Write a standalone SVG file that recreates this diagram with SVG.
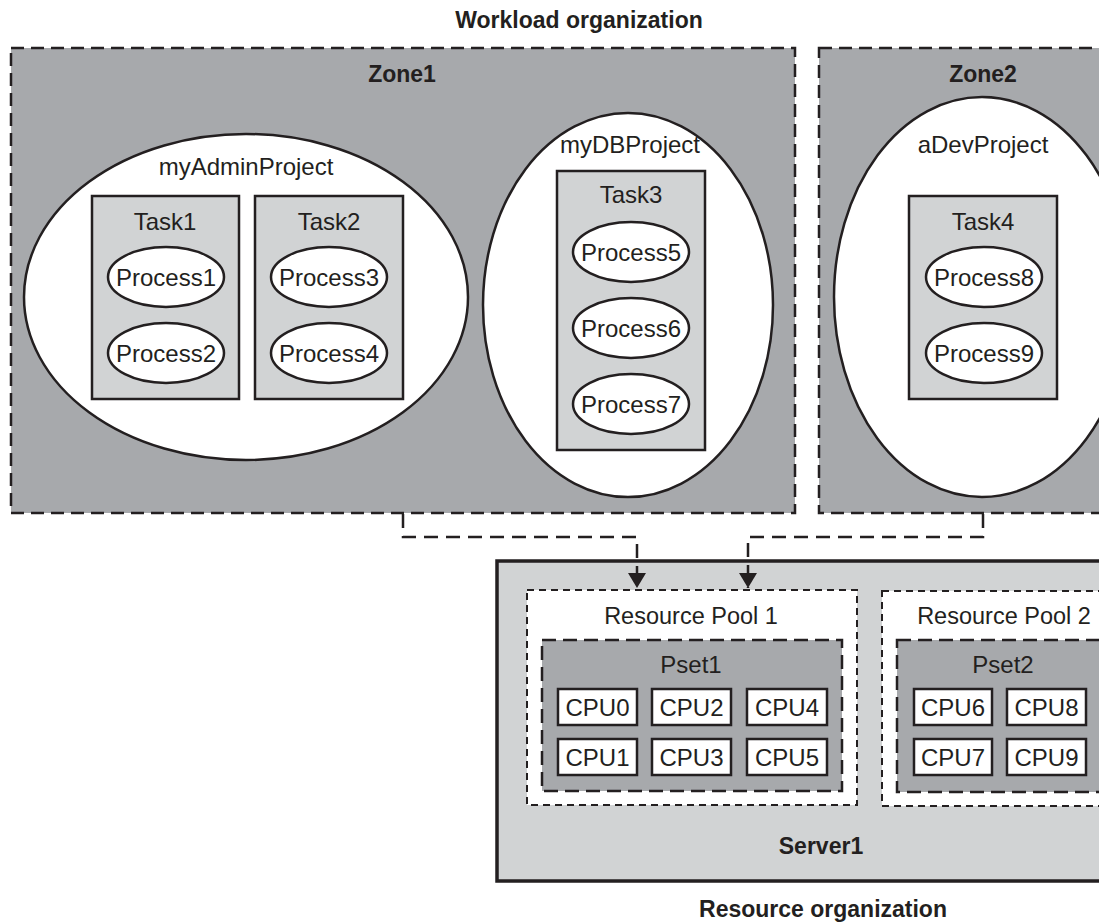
<svg xmlns="http://www.w3.org/2000/svg" width="1099" height="922" viewBox="0 0 1099 922">
<defs>
<style>
text{font-family:"Liberation Sans",Arial,sans-serif;fill:#231f20;text-anchor:middle}
.t{font-size:24px}
.rp{font-size:23.5px}
.b{font-size:23px;font-weight:bold}
.cpu{font-size:24px}
.zone{fill:#a7a9ac;stroke:#231f20;stroke-width:2.5;stroke-dasharray:13 7}
.proj{fill:#fff;stroke:#231f20;stroke-width:2.5}
.task{fill:#d1d3d4;stroke:#231f20;stroke-width:2.5}
.proc{fill:#fff;stroke:#231f20;stroke-width:2.5}
.server{fill:#d1d3d4;stroke:#231f20;stroke-width:3.5}
.pool{fill:#fff;stroke:#231f20;stroke-width:2;stroke-dasharray:7 5}
.pset{fill:#a7a9ac;stroke:#231f20;stroke-width:2.5;stroke-dasharray:14 7}
.cpubox{fill:#fff;stroke:#231f20;stroke-width:2.5}
.conn{fill:none;stroke:#231f20;stroke-width:2.5;stroke-dasharray:14 8}
</style>
<marker id="arr" viewBox="0 0 15 18" refX="15" refY="9" markerWidth="15" markerHeight="18" markerUnits="userSpaceOnUse" orient="auto">
<path d="M0,0 L15,9 L0,18 z" fill="#231f20"/>
</marker>
</defs>

<text class="b" x="579" y="28">Workload organization</text>

<g id="zone1">
<rect class="zone" x="11" y="48" width="784" height="465"/>
<text class="b" x="402" y="82">Zone1</text>
</g>
<g id="zone2">
<rect class="zone" x="819" y="48" width="320" height="465"/>
<text class="b" x="983" y="82">Zone2</text>
</g>

<g id="myAdminProject">
<ellipse class="proj" cx="246" cy="297" rx="222" ry="163"/>
<text class="t" x="246" y="175">myAdminProject</text>
</g>
<g id="task1">
<rect class="task" x="92" y="196" width="147" height="203"/>
<text class="t" x="165" y="230">Task1</text>
</g>
<g id="process1"><ellipse class="proc" cx="166" cy="277" rx="58" ry="30"/><text class="t" x="166" y="286">Process1</text></g>
<g id="process2"><ellipse class="proc" cx="166" cy="353" rx="58" ry="30"/><text class="t" x="166" y="362">Process2</text></g>
<g id="task2">
<rect class="task" x="255" y="196" width="148" height="203"/>
<text class="t" x="329" y="230">Task2</text>
</g>
<g id="process3"><ellipse class="proc" cx="329" cy="277" rx="58" ry="30"/><text class="t" x="329" y="286">Process3</text></g>
<g id="process4"><ellipse class="proc" cx="329" cy="353" rx="58" ry="30"/><text class="t" x="329" y="362">Process4</text></g>

<g id="myDBProject">
<ellipse class="proj" cx="628" cy="305" rx="145" ry="192"/>
<text class="t" x="630" y="153">myDBProject</text>
</g>
<g id="task3">
<rect class="task" x="557" y="171" width="148" height="279"/>
<text class="t" x="631" y="203">Task3</text>
</g>
<g id="process5"><ellipse class="proc" cx="631" cy="252" rx="58" ry="30"/><text class="t" x="631" y="261">Process5</text></g>
<g id="process6"><ellipse class="proc" cx="631" cy="328" rx="58" ry="30"/><text class="t" x="631" y="337">Process6</text></g>
<g id="process7"><ellipse class="proc" cx="631" cy="404" rx="58" ry="30"/><text class="t" x="631" y="413">Process7</text></g>

<g id="aDevProject">
<ellipse class="proj" cx="982" cy="297" rx="148" ry="200"/>
<text class="t" x="983" y="153">aDevProject</text>
</g>
<g id="task4">
<rect class="task" x="909" y="196" width="148" height="203"/>
<text class="t" x="983" y="230">Task4</text>
</g>
<g id="process8"><ellipse class="proc" cx="984" cy="277" rx="58" ry="30"/><text class="t" x="984" y="286">Process8</text></g>
<g id="process9"><ellipse class="proc" cx="984" cy="353" rx="58" ry="30"/><text class="t" x="984" y="362">Process9</text></g>

<g id="server1">
<rect class="server" x="497" y="561" width="640" height="320"/>
<text class="b" x="821" y="854">Server1</text>
</g>
<g id="pool1">
<rect class="pool" x="527" y="590" width="330" height="215"/>
<text class="rp" x="691" y="624">Resource Pool 1</text>
</g>
<g id="pset1">
<rect class="pset" x="542" y="640" width="300" height="151"/>
<text class="t" x="691" y="673">Pset1</text>
</g>
<g id="cpu0"><rect class="cpubox" x="558" y="689" width="79" height="36"/><text class="cpu" x="597.5" y="716">CPU0</text></g>
<g id="cpu2"><rect class="cpubox" x="652" y="689" width="79" height="36"/><text class="cpu" x="691.5" y="716">CPU2</text></g>
<g id="cpu4"><rect class="cpubox" x="747" y="689" width="80" height="36"/><text class="cpu" x="787" y="716">CPU4</text></g>
<g id="cpu1"><rect class="cpubox" x="558" y="739" width="79" height="36"/><text class="cpu" x="597.5" y="766">CPU1</text></g>
<g id="cpu3"><rect class="cpubox" x="652" y="739" width="79" height="36"/><text class="cpu" x="691.5" y="766">CPU3</text></g>
<g id="cpu5"><rect class="cpubox" x="747" y="739" width="80" height="36"/><text class="cpu" x="787" y="766">CPU5</text></g>

<g id="pool2">
<rect class="pool" x="882" y="591" width="250" height="215"/>
<text class="rp" x="1004" y="624">Resource Pool 2</text>
</g>
<g id="pset2">
<rect class="pset" x="897" y="640" width="230" height="152"/>
<text class="t" x="1003" y="673">Pset2</text>
</g>
<g id="cpu6"><rect class="cpubox" x="914" y="689" width="78" height="36"/><text class="cpu" x="953" y="716">CPU6</text></g>
<g id="cpu8"><rect class="cpubox" x="1007" y="689" width="79" height="36"/><text class="cpu" x="1046.5" y="716">CPU8</text></g>
<g id="cpu7"><rect class="cpubox" x="914" y="739" width="78" height="36"/><text class="cpu" x="953" y="766">CPU7</text></g>
<g id="cpu9"><rect class="cpubox" x="1007" y="739" width="79" height="36"/><text class="cpu" x="1046.5" y="766">CPU9</text></g>

<g id="connectors">
<path class="conn" d="M403,514 V537 H637 V588" marker-end="url(#arr)"/>
<path class="conn" d="M983,514 V537 H748 V588" marker-end="url(#arr)"/>
</g>

<text class="b" x="823" y="917">Resource organization</text>
</svg>
